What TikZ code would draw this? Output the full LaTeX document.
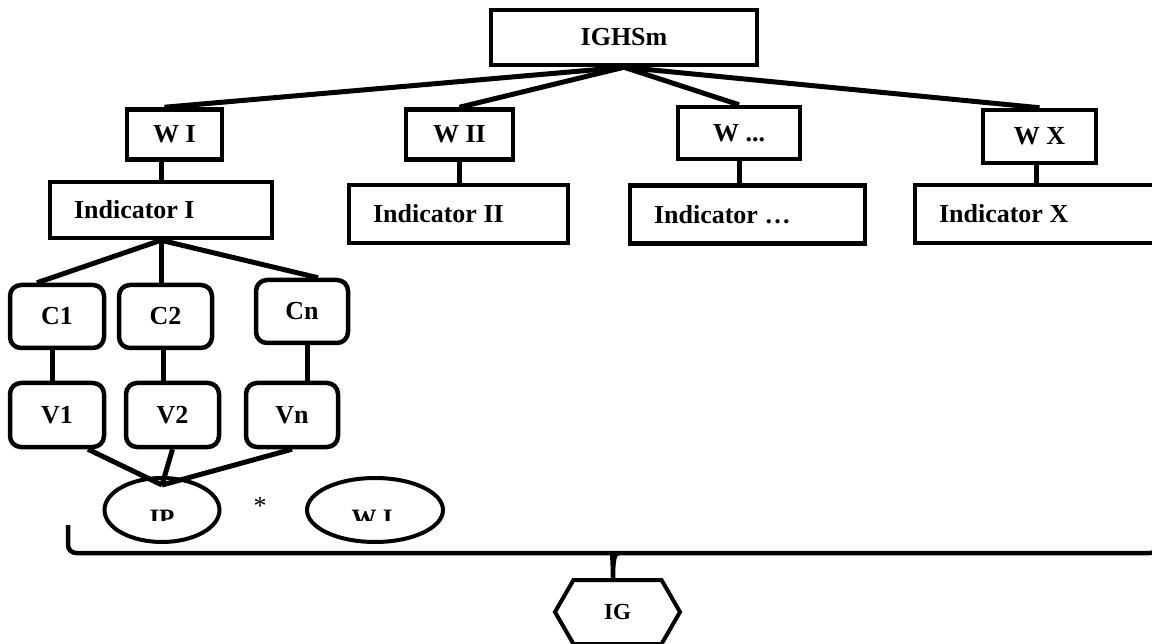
\documentclass[tikz,border=0pt]{standalone}
\usepackage{fontspec}
\setmainfont{Liberation Serif}
\usetikzlibrary{shapes.geometric,shapes.symbols}
\newcommand\lefttext[2]{\makebox[#1][l]{#2}}
\tikzset{
  box/.style={draw,line width=4.5pt,inner sep=0pt,font=\bfseries\fontsize{26}{30}\selectfont},
  wbox/.style={box,minimum height=50pt},
  ibox/.style={box,minimum height=58pt},
  cbox/.style={box,rounded corners=11pt,minimum width=93pt,minimum height=63pt},
  oval/.style={ellipse,draw,line width=4pt,minimum height=64pt},
  conn/.style={line width=5pt}
}
\begin{document}
\begin{tikzpicture}[x=1pt,y=-1pt]
\clip (0,0) rectangle (1152,644);
\node[box,minimum width=266pt,minimum height=55pt] (top) at (624,37.5) {IGHSm};
\node[wbox,minimum width=95pt] (w1) at (174.5,134.5) {W I};
\node[wbox,minimum width=107pt] (w2) at (459.5,134.5) {W II};
\node[wbox,minimum width=122pt,minimum height=52pt] (w3) at (739,133) {W ...};
\node[wbox,minimum width=113pt,minimum height=53pt] (w4) at (1039.5,136.5) {W X};
\node[ibox,minimum width=222pt,minimum height=56pt] (ind1) at (161,210) {\lefttext{174pt}{Indicator I}};
\node[ibox,minimum width=219pt] (ind2) at (458.5,214) {\lefttext{171pt}{Indicator II}};
\node[ibox,minimum width=235pt] (ind3) at (747.5,214.5) {\lefttext{187pt}{Indicator \dots}};
\node[ibox,minimum width=245pt] (ind4) at (1037.5,214) {\lefttext{197pt}{Indicator X}};
\node[cbox,minimum width=94pt] (c1) at (57,316.5) {C1};
\node[cbox] (c2) at (165.5,316.5) {C2};
\node[cbox,minimum width=92pt] (cn) at (302,311.5) {Cn};
\node[cbox,minimum width=94pt,minimum height=64pt] (v1) at (57,415) {V1};
\node[cbox,minimum height=64pt] (v2) at (172.5,415) {V2};
\node[cbox,minimum width=92pt,minimum height=64pt] (vn) at (292,415) {Vn};
\node[oval,minimum width=115pt] (ip) at (162,510) {};
\node[oval,minimum width=136pt] (wi) at (375,510) {};
\node[font=\fontsize{26}{30}\selectfont] (star) at (260,506) {*};
\begin{scope}
  \clip (90,470) rectangle (460,520.5);
  \node[anchor=base,font=\bfseries\fontsize{25}{30}\selectfont] (iptxt) at (162,526) {IP};
  \node[anchor=base,font=\bfseries\fontsize{25}{30}\selectfont] (witxt) at (372,526) {W I};
\end{scope}
\node[signal,signal to=west and east,signal pointer angle=120,draw,line width=4pt,
  minimum width=125pt,minimum height=64pt,font=\bfseries\fontsize{23}{28}\selectfont] (ig) at (617.5,612) {IG};
% weights and indicators
\foreach \w in {w2,w3,w4} {\draw[conn] (top.south) -- (\w.north);}
\draw[conn] (top.south) -- ([xshift=-10pt]w1.north);
\draw[conn] (ind1.north |- w1.south) -- (ind1.north);
\draw[conn] (w2.south) -- (w2.south |- ind2.north);
\draw[conn] (w3.south) -- (w3.south |- ind3.north);
\draw[conn] ([xshift=-3pt]w4.south) -- ([xshift=-3pt]w4.south |- ind4.north);
% criteria and values
\draw[conn] (ind1.south) -- ([xshift=-20pt]c1.north);
\draw[conn] (ind1.south) -- (ind1.south |- c2.north);
\draw[conn] (ind1.south) -- ([xshift=16pt]cn.north);
\draw[conn] ([xshift=-5pt]c1.south) -- ([xshift=-5pt]v1.north);
\draw[conn] ([xshift=-2pt]c2.south) -- ([xshift=-2pt]c2.south |- v2.north);
\draw[conn] ([xshift=5pt]cn.south) -- ([xshift=5pt]cn.south |- vn.north);
\draw[conn] ([xshift=31pt]v1.south) -- ([yshift=-9pt]ip.north);
\draw[conn] (v2.south) -- ([yshift=-9pt]ip.north);
\draw[conn] (vn.south) -- ([yshift=-9pt]ip.north);
% brace
\coordinate (bl) at (68,525);
\coordinate (br) at (1158,525);
\draw[conn,line width=4.5pt] (bl) [rounded corners=8pt] |- (606,553) [sharp corners]
  .. controls (611,553) and (613,556) .. ([xshift=-4.5pt]ig.north)
  .. controls (613,556) and (615,553) .. (620,553) [rounded corners=8pt] -| (br);
\end{tikzpicture}
\end{document}
